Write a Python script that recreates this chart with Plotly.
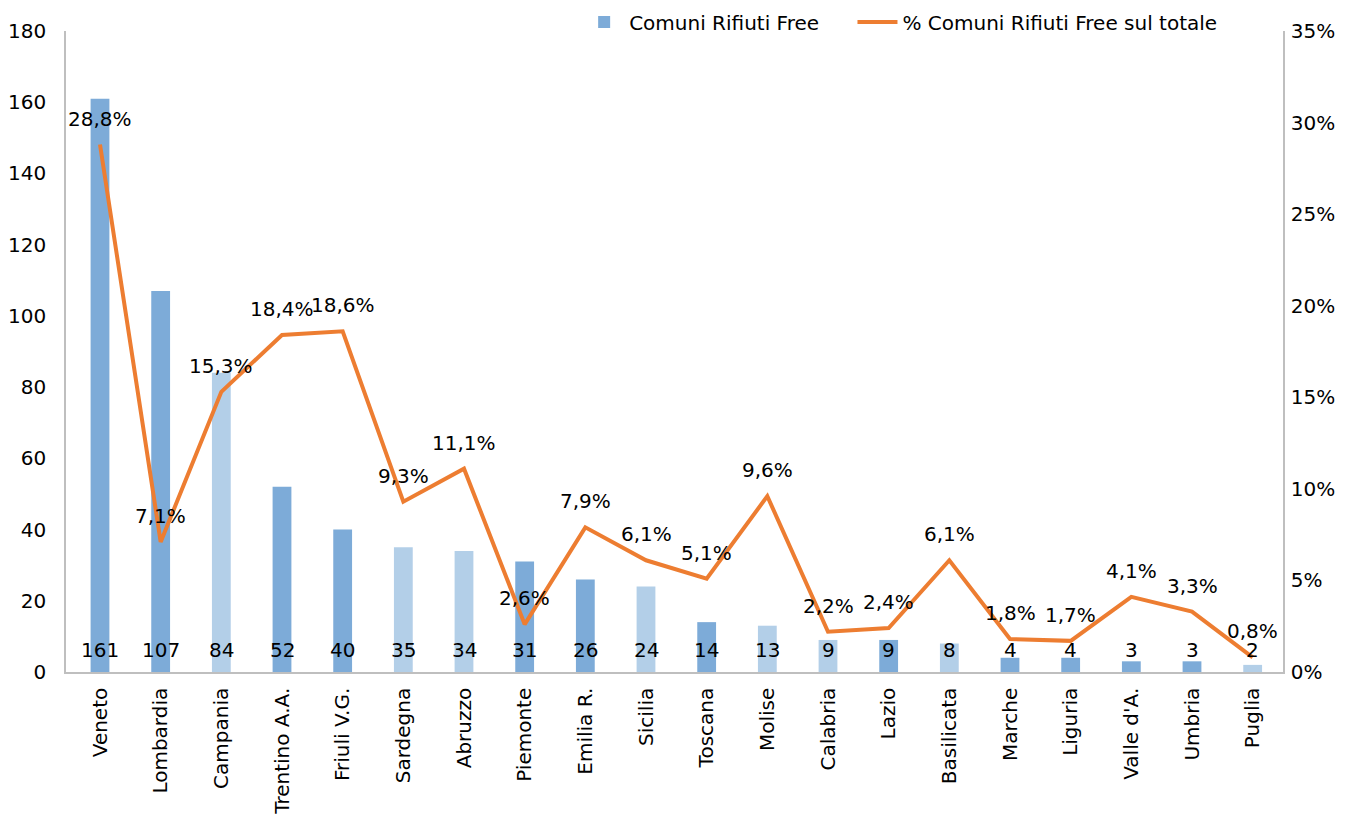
import plotly.graph_objects as go

regions = ["Veneto", "Lombardia", "Campania", "Trentino A.A.", "Friuli V.G.", "Sardegna",
           "Abruzzo", "Piemonte", "Emilia R.", "Sicilia", "Toscana", "Molise", "Calabria",
           "Lazio", "Basilicata", "Marche", "Liguria", "Valle d'A.", "Umbria", "Puglia"]
comuni = [161, 107, 84, 52, 40, 35, 34, 31, 26, 24, 14, 13, 9, 9, 8, 4, 4, 3, 3, 2]
pct = [28.8, 7.1, 15.3, 18.4, 18.6, 9.3, 11.1, 2.6, 7.9, 6.1, 5.1, 9.6, 2.2, 2.4, 6.1,
       1.8, 1.7, 4.1, 3.3, 0.8]
# area: N = north/centre (darker), S = south/islands (lighter)
area = ["N", "N", "S", "N", "N", "S", "S", "N", "N", "S", "N", "S", "S", "N", "S",
        "N", "N", "N", "N", "S"]

DARK = "#7DABD8"
LIGHT = "#B3CFE8"
ORANGE = "#ED7D31"
FONT = "DejaVu Sans"
FS = 20

bar_colors = [DARK if a == "N" else LIGHT for a in area]

fig = go.Figure()
fig.add_trace(go.Bar(
    x=regions, y=comuni, name="Comuni Rifiuti Free",
    marker=dict(color=bar_colors, line=dict(width=0)),
    width=0.31, yaxis="y", legend="legend",
))
fig.add_trace(go.Scatter(
    x=regions, y=[p / 100 for p in pct], name="% Comuni Rifiuti Free sul totale",
    mode="lines", line=dict(color=ORANGE, width=4), yaxis="y2", legend="legend2",
))

annotations = []
for r, v in zip(regions, comuni):
    annotations.append(dict(x=r, y=0, xref="x", yref="y", text=str(v), showarrow=False,
                            yanchor="middle", yshift=22,
                            font=dict(family=FONT, size=FS, color="#000000")))
for r, p in zip(regions, pct):
    annotations.append(dict(x=r, y=p / 100, xref="x", yref="y2",
                            text=f"{p:.1f}%".replace(".", ","), showarrow=False,
                            yanchor="middle", yshift=26,
                            font=dict(family=FONT, size=FS, color="#000000")))

legend_common = dict(orientation="h", yref="container", xref="container", y=0.983,
                     yanchor="middle", font=dict(size=FS), bgcolor="rgba(0,0,0,0)",
                     itemwidth=40)

fig.update_layout(
    width=1349, height=820,
    margin=dict(l=58, r=74, t=23, b=156, autoexpand=False),
    paper_bgcolor="white", plot_bgcolor="white",
    font=dict(family=FONT, size=FS, color="#000000"),
    xaxis=dict(tickangle=-90, showline=True, linecolor="#BFBFBF", linewidth=1.5,
               ticks="", showgrid=False, tickfont=dict(size=FS), ticklabelstandoff=6),
    yaxis=dict(range=[0, 180], dtick=20, showline=True, linecolor="#BFBFBF", linewidth=1.5,
               showgrid=False, zeroline=False, ticks="", tickfont=dict(size=FS),
               ticklabelstandoff=14),
    yaxis2=dict(range=[0, 0.35], dtick=0.05, tickformat=".0%", overlaying="y", side="right",
                showline=True, linecolor="#BFBFBF", linewidth=1.5, showgrid=False,
                zeroline=False, ticks="", tickfont=dict(size=FS), ticklabelstandoff=2),
    legend=dict(legend_common, x=0.605, xanchor="right"),
    legend2=dict(legend_common, x=0.626, xanchor="left"),
    annotations=annotations,
    showlegend=True,
)

fig.write_html("out.html")
